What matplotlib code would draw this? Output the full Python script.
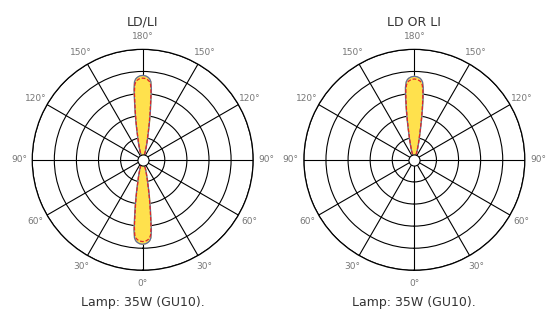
import numpy as np
import matplotlib
matplotlib.use("Agg")
import matplotlib.pyplot as plt

# angle from the beam axis (deg) and relative intensity (ring units)
offsets = [0, 2, 3, 4, 5, 6, 7, 8, 9, 10, 11, 12, 13, 14, 15, 17, 20, 25]
left_c0 = [3.82, 3.80, 3.77, 3.73, 3.67, 3.55, 3.22, 2.65, 2.2, 1.8,
           1.45, 1.15, 0.95, 0.8, 0.65, 0.45, 0.2, 0.0]
left_c90 = [3.70, 3.68, 3.65, 3.61, 3.55, 3.42, 3.08, 2.52, 2.08, 1.7,
            1.36, 1.08, 0.89, 0.75, 0.6, 0.41, 0.18, 0.0]
right_c0 = [3.78, 3.76, 3.73, 3.70, 3.64, 3.54, 3.30, 2.85, 2.35, 1.9,
            1.5, 1.2, 0.98, 0.8, 0.65, 0.45, 0.2, 0.0]
right_c90 = [3.66, 3.64, 3.61, 3.58, 3.52, 3.41, 3.17, 2.72, 2.23, 1.8,
             1.42, 1.13, 0.92, 0.75, 0.6, 0.41, 0.18, 0.0]

tick_angles = list(range(0, 360, 30))
tick_labels = ["0°", "30°", "60°", "90°", "120°", "150°", "180°",
               "150°", "120°", "90°", "60°", "30°"]
rings = [1, 2, 3, 4, 5]

titles = ["LD/LI", "LD OR LI"]
lamp = "Lamp: 35W (GU10)."


def lobe(center_deg, values):
    off = np.array(offsets, dtype=float)
    vals = np.array(values, dtype=float)
    ang = np.concatenate([-off[::-1], off[1:]]) + center_deg
    r = np.concatenate([vals[::-1], vals[1:]])
    return np.deg2rad(ang), r


def draw(ax, centers, c0, c90):
    ax.set_theta_zero_location("S")
    ax.set_theta_direction(1)
    ax.set_ylim(0, 5)
    for c in centers:
        th, r = lobe(c, c0)
        ax.fill(th, r, color="#FFE14D", zorder=2)
        ax.plot(th, r, color="#5A6BA8", lw=0.9, zorder=3)
        th2, r2 = lobe(c, c90)
        ax.plot(th2, r2, color="#E0262A", lw=0.9, ls=(0, (3, 1.5)), zorder=4)
    ax.set_rgrids(rings, labels=[])
    ax.set_thetagrids(tick_angles, labels=tick_labels, fontsize=6.5,
                      color="#777777")
    ax.tick_params(axis="x", pad=-1)
    ax.grid(True, color="black", lw=0.8)
    ax.spines["polar"].set_linewidth(0.9)
    ax.set_axisbelow(True)
    ax.plot(0, 0, "o", ms=8, mfc="white", mec="black", mew=0.8, zorder=6)


fig = plt.figure(figsize=(5.51, 3.2), dpi=100)
ax1 = fig.add_axes([0.0585, 0.155, 0.401, 0.691], projection="polar")
ax2 = fig.add_axes([0.5515, 0.155, 0.401, 0.691], projection="polar")

draw(ax1, [0, 180], left_c0, left_c90)
draw(ax2, [180], right_c0, right_c90)

for x, t in zip([0.259, 0.752], titles):
    fig.text(x, 0.931, t, ha="center", va="center", fontsize=9,
             color="#333333")
    fig.text(x, 0.056, lamp, ha="center", va="center", fontsize=9,
             color="#333333")

fig.savefig("out.png", dpi=100)
